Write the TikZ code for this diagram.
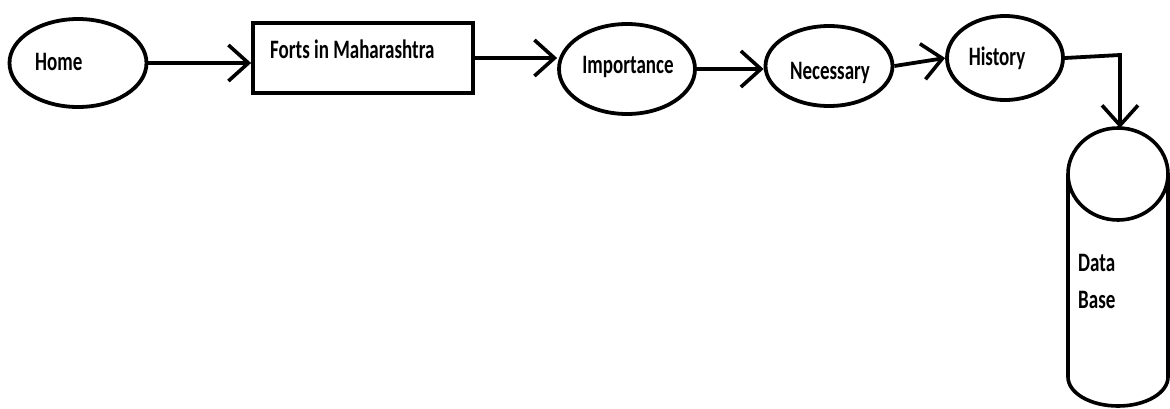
\documentclass[tikz,border=0pt]{standalone}
\usepackage{fontspec}
\usepackage{graphicx}
\setmainfont{Carlito}
\usetikzlibrary{shapes.geometric,arrows.meta}
\newcommand{\dtxt}[1]{\scalebox{1}[1.4]{\bfseries\fontsize{19}{22}\selectfont #1}}
\begin{document}
\begin{tikzpicture}[x=1pt,y=-1pt,
  oval/.style={draw,ellipse,line width=3.8pt,inner sep=0pt},
  box/.style={draw,rectangle,line width=3.8pt,inner sep=0pt},
  lbl/.style={inner sep=0pt},
  conn/.style={line width=3.8pt,-{Straight Barb[length=20pt,width=36pt,line width=3.6pt]}},
  shell/.style={line width=3.6pt}]
\fill[white] (0,0) rectangle (1170,408);
\useasboundingbox (0,0) rectangle (1170,408);
% nodes
\node[oval,minimum width=137pt,minimum height=88pt] (home) at (78,63) {};
\node[lbl,anchor=west] (homet) at (35,62) {\dtxt{Home}};
\node[box,minimum width=220pt,minimum height=70pt] (forts) at (363,58) {};
\node[lbl,anchor=west] (fortst) at (270,49) {\dtxt{Forts in Maharashtra}};
\node[oval,minimum width=136pt,minimum height=90pt] (imp) at (627,69) {};
\node[lbl] (impt) at (628,67) {\dtxt{Importance}};
\node[oval,minimum width=127pt,minimum height=80pt] (nec) at (829,66) {};
\node[lbl] (nect) at (830,73) {\dtxt{Necessary}};
\node[oval,minimum width=116pt,minimum height=84pt] (his) at (1005,58) {};
\node[lbl] (hist) at (997,58) {\dtxt{History}};
% database cylinder
\coordinate (dbc) at (1118,174);
\coordinate (dbtop) at (1118,128);
\draw[shell] (dbc) ellipse [x radius=50pt, y radius=46pt];
\draw[shell] (1068,174) -- (1068,377) arc[start angle=180, end angle=360, x radius=50pt, y radius=29pt] -- (1168,174);
\node[lbl,anchor=west] (dbt1) at (1078,263) {\dtxt{Data}};
\node[lbl,anchor=west] (dbt2) at (1078,300) {\dtxt{Base}};
% connectors
\coordinate (corner) at (1120,55);
\draw[conn] (home.east) -- (home.east -| forts.west);
\draw[conn] (forts.east) -- (forts.east -| imp.west);
\draw[conn] (imp.east) -- (imp.east -| nec.west);
\draw[conn] (nec.east) -- (his.west);
\draw[conn] (his.east) -- (corner) -- (corner |- dbtop);
\end{tikzpicture}
\end{document}
